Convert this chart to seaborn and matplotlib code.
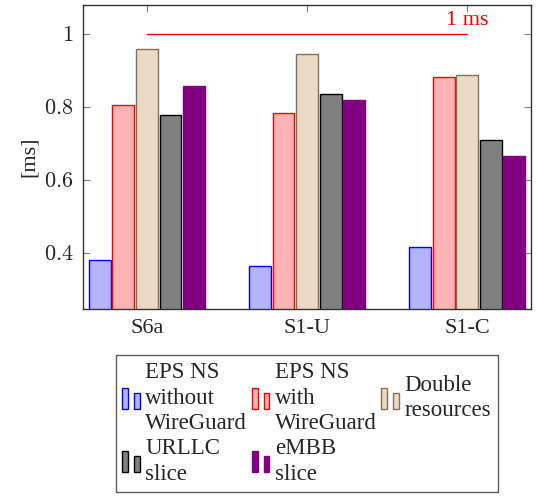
import numpy as np
import pandas as pd
import matplotlib
matplotlib.use("Agg")
import matplotlib.pyplot as plt
from matplotlib.patches import Rectangle
from matplotlib.legend_handler import HandlerBase
import seaborn as sns

# data
interfaces = ["S6a", "S1-U", "S1-C"]
series = ["EPS NS\nwithout\nWireGuard", "EPS NS\nwith\nWireGuard",
          "Double\nresources", "URLLC\nslice", "eMBB\nslice"]
no_wg = [0.379, 0.364, 0.416]
with_wg = [0.805, 0.784, 0.881]
double_res = [0.960, 0.946, 0.888]
urllc = [0.778, 0.836, 0.709]
embb = [0.858, 0.820, 0.666]
limit_ms = 1.0
ytick_vals = [0.4, 0.6, 0.8, 1.0]
ytick_labels = ["$0.4$", "$0.6$", "$0.8$", "$1$"]

fills = ["#b3b3ff", "#ffb3b3", "#ead9c5", "#808080", "#800080"]
edges = ["#0000ff", "#ff0000", "#8c7055", "#000000", "#800080"]

df = pd.DataFrame({
    "iface": interfaces * 5,
    "serie": np.repeat(series, 3),
    "val": no_wg + with_wg + double_res + urllc + embb,
})

sns.set_style("ticks")
plt.rcParams["font.family"] = "serif"
plt.rcParams["font.serif"] = ["Liberation Serif", "DejaVu Serif"]
plt.rcParams["mathtext.fontset"] = "cm"

fig = plt.figure(figsize=(5.42, 4.98), dpi=100)
ax = fig.add_axes([0.153, 0.3795, 0.827, 0.6105])

sns.barplot(data=df, x="iface", y="val", hue="serie", hue_order=series,
            palette=fills, saturation=1, width=0.735, gap=0.07, ax=ax,
            legend=False, errorbar=None)

for i, cont in enumerate(ax.containers):
    for b in cont:
        b.set_edgecolor(edges[i])
        b.set_linewidth(1.0)

# 1 ms line
ax.plot([0, 2], [limit_ms, limit_ms], color="red", lw=1.0)
ax.text(2, limit_ms + 0.012, "1 ms", color="red", ha="center", va="bottom",
        fontsize=16)

ax.set_xlim(-0.4, 2.4)
ax.set_ylim(0.245, 1.08)
ax.set_yticks(ytick_vals)
ax.set_yticklabels(ytick_labels)
ax.set_xlabel("")
ax.set_ylabel("[ms]", fontsize=16, labelpad=3)
ax.tick_params(axis="both", direction="in", length=5, color="#808080",
               labelsize=16, top=True, right=True, pad=7)
for s in ax.spines.values():
    s.set_color("#333333")
    s.set_linewidth(1.0)


class TwoBars(HandlerBase):
    def create_artists(self, legend, orig, xd, yd, w, h, fs, trans):
        fc, ec = orig.get_facecolor(), orig.get_edgecolor()
        bw = w * 0.3
        r1 = Rectangle((xd + w * 0.0, yd - h * 0.2), bw, h * 1.35,
                       facecolor=fc, edgecolor=ec, lw=1.0, transform=trans)
        r2 = Rectangle((xd + w * 0.6, yd - h * 0.2), bw, h * 1.0,
                       facecolor=fc, edgecolor=ec, lw=1.0, transform=trans)
        return [r1, r2]


handles = [Rectangle((0, 0), 1, 1, facecolor=fills[i], edgecolor=edges[i])
           for i in range(5)]
order = [0, 3, 1, 4, 2]
leg = ax.legend([handles[i] for i in order], [series[i] for i in order],
                handler_map={Rectangle: TwoBars()}, ncol=3,
                loc="upper center", bbox_to_anchor=(0.499, -0.151),
                borderaxespad=0, fontsize=16.5, frameon=True, fancybox=False,
                edgecolor="#333333", handlelength=0.85, handletextpad=0.15,
                columnspacing=0.2, labelspacing=0.15, borderpad=0.3)
leg.get_frame().set_linewidth(1.0)
for t in leg.get_texts():
    t.set_linespacing(1.3)

fig.savefig("out.png", dpi=100)
